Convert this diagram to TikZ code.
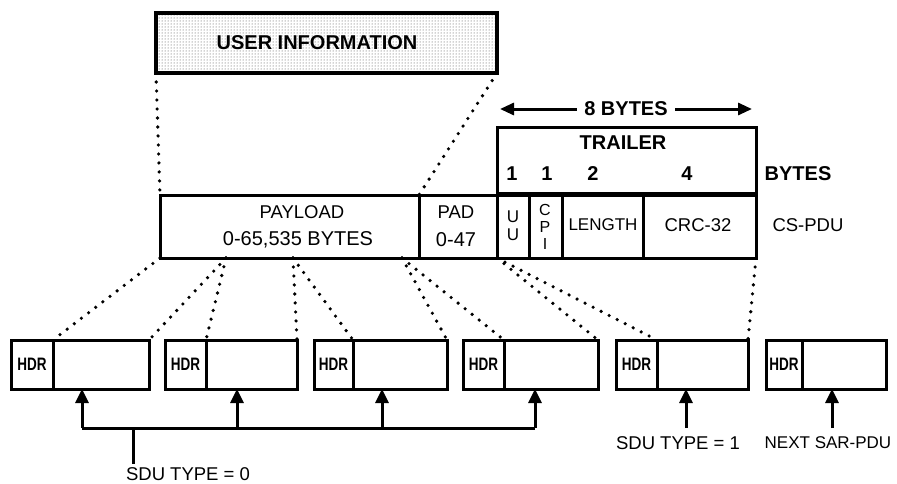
\documentclass[tikz,border=0pt]{standalone}
\usepackage{fontspec}
\setmainfont{Liberation Sans}
\usetikzlibrary{arrows.meta,patterns}

\tikzset{
  cell/.style={draw, line width=3pt, inner sep=0pt, outer sep=0pt, anchor=north west},
  dotline/.style={line width=3.6pt, line cap=round, dash pattern=on 0pt off 9pt},
  feed/.style={line width=3pt, -{Triangle[width=13pt,length=14pt]}},
  txt/.style={font=\fontsize{18.5}{18.5}\selectfont},
  bigtxt/.style={font=\fontsize{20}{20}\selectfont},
  btxt/.style={font=\bfseries\fontsize{20}{20}\selectfont},
  hdrtxt/.style={font=\bfseries\fontsize{18}{18}\selectfont},
}

\begin{document}
\begin{tikzpicture}[x=1pt,y=-1pt]
\useasboundingbox (0,0) rectangle (897,483);

\node[cell, line width=4.5pt, pattern=dots, pattern color=black!75, minimum width=341pt, minimum height=60pt] (user) at (156,13) {};
\node[btxt] (usertxt) at (317,43) {USER INFORMATION};

\node[cell, minimum width=259pt, minimum height=66pt] (trailer) at (497,127) {};
\node[cell, minimum width=259pt, minimum height=63pt] (payload) at (160,195) {};
\node[cell, minimum width=78pt, minimum height=63pt] (pad) at (419,195) {};
\node[cell, minimum width=32pt, minimum height=63pt] (uu) at (497,195) {};
\node[cell, minimum width=33pt, minimum height=63pt] (cpi) at (529,195) {};
\node[cell, minimum width=81pt, minimum height=63pt] (length) at (562,195) {};
\node[cell, minimum width=113pt, minimum height=63pt] (crc) at (643,195) {};

\coordinate (spanl) at (500,109);
\coordinate (spanr) at (752,109);
\draw[line width=3pt, {Triangle[width=12pt,length=14pt]}-{Triangle[width=12pt,length=14pt]}] (spanl) -- node[btxt, fill=white, inner xsep=7pt] (span) {8 BYTES} (spanr);

\node[btxt] (trailertxt) at (623,143) {TRAILER};
\node[btxt] (cnt1) at (512,174) {1};
\node[btxt] (cnt2) at (547,174) {1};
\node[btxt] (cnt3) at (593,174) {2};
\node[btxt] (cnt4) at (687,174) {4};
\node[btxt] (bytes) at (798,174) {BYTES};
\node[txt] (cspdu) at (808,225) {CS-PDU};

\node[txt] (paytxt) at (302,212) {PAYLOAD};
\node[bigtxt] (paysize) at (298,240) {0-65,535 BYTES};
\node[txt] (padtxt) at (456,212) {PAD};
\node[bigtxt] (padsize) at (456,240) {0-47};
\node[txt, font=\fontsize{17}{18}\selectfont, align=center] (uutxt) at (513,226) {U\\U};
\node[txt, font=\fontsize{16}{17}\selectfont, align=center] (cpitxt) at (545,227) {C\\P\\I};
\node[txt, font=\fontsize{17}{17}\selectfont] (lengthtxt) at (603,225) {LENGTH};
\node[txt] (crctxt) at (698,225) {CRC-32};

\foreach \i/\l/\hw/\bw in {1/11/42/96, 2/165/41/91, 3/314/39/94, 4/463/41/94, 5/616/41/91, 6/766/36/84} {
  \node[cell, hdrtxt, minimum width=\hw pt, minimum height=49pt] (hdr\i) at (\l,340) {\scalebox{0.75}[1]{HDR}};
  \node[cell, minimum width=\bw pt, minimum height=49pt] (body\i) at (hdr\i.north east) {};
}

\draw[dotline] (user.south west) -- (payload.north west);
\draw[dotline] (user.south east) -- (pad.north west);
\coordinate (cut2) at (226,258);
\coordinate (cut3) at (293,258);
\coordinate (cut4) at (402,258);
\draw[dotline] (payload.south west) -- (hdr1.north east);
\draw[dotline] (cut2) -- (body1.north east);
\draw[dotline] (cut2) -- (hdr2.north east);
\draw[dotline] (cut3) -- (body2.north east);
\draw[dotline] (cut3) -- (hdr3.north east);
\draw[dotline] (cut4) -- (body3.north east);
\draw[dotline] (cut4) -- (hdr4.north east);
\draw[dotline] (uu.south west) -- (body4.north east);
\draw[dotline] (uu.south west) -- (hdr5.north east);
\draw[dotline] (crc.south east) -- (body5.north east);

\coordinate (tap1) at (82,428);
\coordinate (tap2) at (237,428);
\coordinate (tap3) at (382,428);
\coordinate (tap4) at (535,428);
\coordinate (stem) at (133,428);
\draw[line width=3pt] (tap1) -- (tap4);
\foreach \i in {1,...,4}
  \draw[feed] (tap\i) -- (tap\i |- body\i.south);
\node[txt] (sdu0) at (188,474) {SDU TYPE = 0};
\draw[line width=3pt] (stem) -- (stem |- sdu0.north);

\node[txt] (sdu1) at (678,443) {SDU TYPE = 1};
\coordinate (tap5) at (686,428);
\draw[feed] (tap5) -- (tap5 |- body5.south);
\node[txt, font=\fontsize{17}{17}\selectfont] (nextsar) at (828,443) {NEXT SAR-PDU};
\coordinate (tap6) at (832,428);
\draw[feed] (tap6) -- (tap6 |- body6.south);
\end{tikzpicture}
\end{document}
